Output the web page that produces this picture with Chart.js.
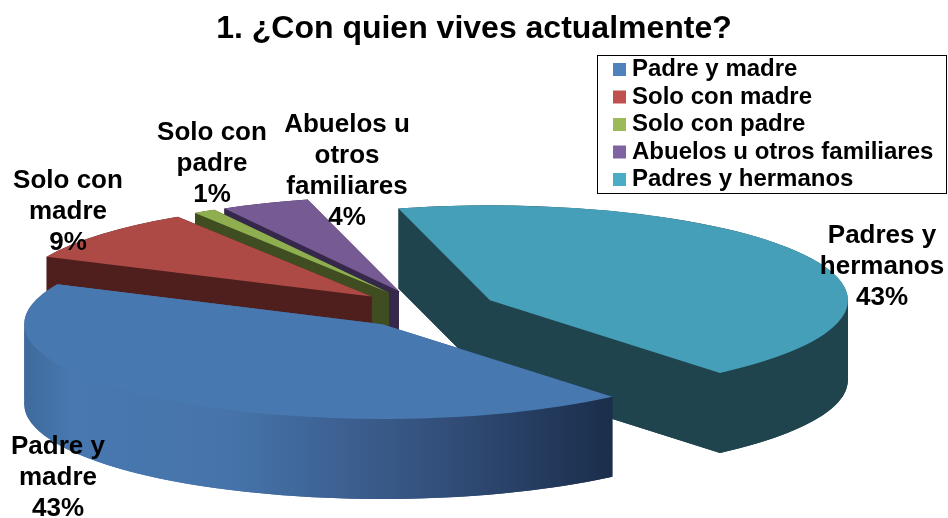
<!DOCTYPE html>
<html>
<head>
<meta charset="utf-8">
<style>
  html, body { margin: 0; padding: 0; background: #fff; }
  #wrap { position: relative; width: 948px; height: 518px; }
</style>
<script src="https://cdn.jsdelivr.net/npm/chart.js@4"></script>
</head>
<body>
<div id="wrap"><canvas id="chart"></canvas></div>
<script>
const chartTitle = '1. ¿Con quien vives actualmente?';
const categories = ['Padre y madre', 'Solo con madre', 'Solo con padre', 'Abuelos u otros familiares', 'Padres y hermanos'];
const shares = [43, 9, 1, 4, 43];
const labelLines = [
  ['Padre y', 'madre', '43%'],
  ['Solo con', 'madre', '9%'],
  ['Solo con', 'padre', '1%'],
  ['Abuelos u', 'otros', 'familiares', '4%'],
  ['Padres y', 'hermanos', '43%'],
];

const TOP_COLORS = ['#4878B0', '#AE4A46', '#8FAE50', '#755A93', '#469FB8'];
const WALL_COLORS = ['#35527F', '#4F1F1D', '#3F4D21', '#36284A', '#1F444E'];
const LEGEND_COLORS = ['#4F81BD', '#C0504D', '#9BBB59', '#8064A2', '#4BACC6'];

// where the flat pie is projected to, and how far the slices are pulled apart
const PIE = { x: 426, y: 309, squash: 0.265, depth: 80, explode: 72 };
// middle of each label's first line, in page pixels
const LABEL_SPOTS = [[58, 447], [68, 181], [212, 133], [347, 125], [882, 236]];
const LEGEND_BOX = { left: 597, top: 55, right: 946, bottom: 193 };

// Moves the context so that arc coordinates land on the tilted, exploded pie
function projectSlice(ctx, arc, dy) {
  const mid = (arc.startAngle + arc.endAngle) / 2;
  ctx.setTransform(1, 0, 0, 1, 0, 0);
  ctx.translate(PIE.x, PIE.y + dy);
  ctx.scale(1, PIE.squash);
  ctx.translate(Math.cos(mid) * PIE.explode - arc.x, Math.sin(mid) * PIE.explode - arc.y);
}

function wallFill(ctx, arc, i) {
  if (i !== 0) return WALL_COLORS[i];
  // only the big blue slice has the light-to-dark side; x runs in pie space
  const g = ctx.createLinearGradient(arc.x - arc.outerRadius, 0, arc.x + 229, 0);
  g.addColorStop(0, '#3E6A9C');
  g.addColorStop(0.08, '#4878B0');
  g.addColorStop(0.35, '#4674AA');
  g.addColorStop(0.68, '#35527F');
  g.addColorStop(1, '#1B2E4B');
  return g;
}

// Rim pieces must break at the ellipse's left/right extremes or the silhouette gets a notch
function rimBreaks(a0, a1) {
  const angles = [a0];
  for (let k = Math.ceil(a0 / Math.PI); k * Math.PI < a1; k++) {
    if (k * Math.PI > a0) angles.push(k * Math.PI);
  }
  angles.push(a1);
  return angles;
}

// Floor, curved rim and the two cut faces of one slice, built across two transforms
function drawWalls(ctx, arc, i) {
  const { x, y, outerRadius: r, startAngle: a0, endAngle: a1 } = arc;
  const d = PIE.depth;
  ctx.fillStyle = wallFill(ctx, arc, i);

  projectSlice(ctx, arc, d);
  ctx.beginPath();
  ctx.moveTo(x, y);
  ctx.arc(x, y, r, a0, a1);
  ctx.closePath();
  ctx.fill();

  const breaks = rimBreaks(a0, a1);
  for (let n = 0; n < breaks.length - 1; n++) {
    ctx.beginPath();
    projectSlice(ctx, arc, 0);
    ctx.arc(x, y, r, breaks[n], breaks[n + 1]);
    projectSlice(ctx, arc, d);
    ctx.arc(x, y, r, breaks[n + 1], breaks[n], true);
    ctx.closePath();
    ctx.fill();
  }

  [a0, a1].forEach(a => {
    const rimX = x + Math.cos(a) * r;
    const rimY = y + Math.sin(a) * r;
    ctx.beginPath();
    projectSlice(ctx, arc, 0);
    ctx.moveTo(x, y);
    ctx.lineTo(rimX, rimY);
    projectSlice(ctx, arc, d);
    ctx.lineTo(rimX, rimY);
    ctx.lineTo(x, y);
    ctx.closePath();
    ctx.fill();
  });
}

const tiltedPie = {
  id: 'tiltedPie',
  beforeDraw(chart) {
    const { ctx } = chart;
    ctx.save();
    ctx.strokeStyle = '#000';
    ctx.lineWidth = 1;
    ctx.strokeRect(LEGEND_BOX.left + 0.5, LEGEND_BOX.top + 0.5,
      LEGEND_BOX.right - LEGEND_BOX.left, LEGEND_BOX.bottom - LEGEND_BOX.top);
    ctx.restore();
  },
  afterLayout(chart) {
    const legend = chart.legend;
    legend.left = LEGEND_BOX.left + 16;
    legend.right = LEGEND_BOX.right;
    legend.top = LEGEND_BOX.top - 1;
    // extra room, the legend wraps to a second column if the last row touches bottom
    legend.bottom = LEGEND_BOX.bottom + 20;
  },
  // takes over the arc drawing: back slices first, walls under each top face
  beforeDatasetDraw(chart, args) {
    const { ctx } = chart;
    const arcs = args.meta.data;
    [4, 3, 2, 1, 0].forEach(i => {
      const arc = arcs[i];
      ctx.save();
      drawWalls(ctx, arc, i);
      projectSlice(ctx, arc, 0);
      arc.draw(ctx);
      ctx.restore();
    });
    return false;
  },
  afterDraw(chart) {
    const { ctx } = chart;
    ctx.save();
    ctx.font = 'bold 26px "Liberation Sans"';
    ctx.fillStyle = '#000';
    ctx.textAlign = 'center';
    ctx.textBaseline = 'middle';
    labelLines.forEach((lines, i) => {
      lines.forEach((line, n) => {
        ctx.fillText(line, LABEL_SPOTS[i][0], LABEL_SPOTS[i][1] + n * 31);
      });
    });
    ctx.restore();
  },
};

new Chart(document.getElementById('chart'), {
  type: 'pie',
  data: {
    labels: categories,
    datasets: [{
      data: shares,
      backgroundColor: TOP_COLORS,
      borderWidth: 0,
      clip: false,
    }],
  },
  options: {
    responsive: true,
    maintainAspectRatio: false,
    animation: false,
    rotation: 140,
    radius: 358,
    plugins: {
      title: {
        display: true,
        text: chartTitle,
        color: '#000',
        font: { family: 'Liberation Sans', size: 32, weight: 'bold' },
        padding: { top: 10, bottom: 6 },
      },
      legend: {
        position: 'chartArea',
        align: 'start',
        labels: {
          color: '#000',
          font: { family: 'Liberation Sans', size: 24, weight: 'bold' },
          // a thin box with a thick border: the square stays 13px but the text sits close to it
          boxWidth: 3.5,
          boxHeight: 1,
          padding: 3.5,
          generateLabels() {
            return categories.map((name, i) => ({
              text: name,
              fillStyle: LEGEND_COLORS[i],
              strokeStyle: LEGEND_COLORS[i],
              lineWidth: 12,
              index: i,
            }));
          },
        },
      },
      tooltip: { enabled: false },
    },
  },
  plugins: [tiltedPie],
});
</script>
</body>
</html>
